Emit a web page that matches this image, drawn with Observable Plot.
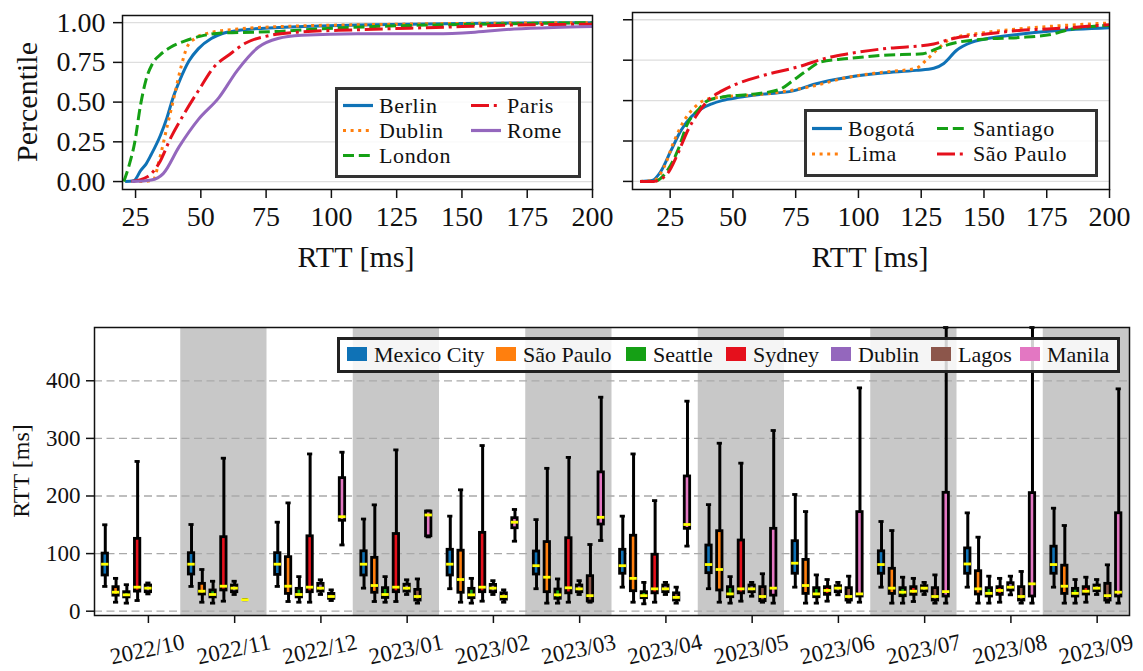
<!DOCTYPE html>
<html><head><meta charset="utf-8">
<script src="https://cdn.jsdelivr.net/npm/d3@7"></script>
<script src="https://cdn.jsdelivr.net/npm/@observablehq/plot@0.6"></script>
<style>
body{margin:0;background:#fff;}
#root{position:relative;width:1143px;height:671px;overflow:hidden;font-family:"Liberation Serif",serif;color:#111;background:#fff;}
#root svg{position:absolute;overflow:visible;}
.lbl{position:absolute;line-height:1;white-space:nowrap;}
</style></head><body><div id="root"></div>
<script>
// ---------- CDF data (RTT ms, percentile) ----------
const berlinCdf = [[21,0],[24.3,0.005],[27,0.07],[29,0.11],[31,0.17],[34.5,0.29],[37,0.4],[39.2,0.52],[42,0.64],[45.5,0.76],[49,0.835],[54,0.9],[58,0.93],[64,0.95],[80,0.97],[110,0.985],[150,0.995],[200,1.0]];
const dublinCdf = [[23.5,0],[28,0],[31.8,0.01],[34,0.13],[37,0.34],[40,0.55],[42.4,0.72],[44.7,0.845],[47.7,0.9],[52,0.93],[64,0.96],[80,0.975],[125,0.99],[200,1.0]];
const londonCdf = [[20.5,0],[22.5,0.1],[24.6,0.24],[27,0.49],[29,0.64],[31.4,0.74],[34.6,0.8],[38.4,0.845],[44,0.885],[50,0.915],[58,0.935],[70,0.94],[80,0.945],[95,0.96],[125,0.98],[155,0.99],[200,1.0]];
const parisCdf = [[23.5,0],[29.5,0.03],[34,0.115],[38.6,0.28],[43,0.41],[49,0.57],[55,0.72],[61,0.8],[67,0.87],[76.5,0.92],[87,0.94],[110,0.955],[140,0.97],[170,0.985],[200,0.99]];
const romeCdf = [[23.5,0],[31,0.01],[35.6,0.05],[41.7,0.22],[49,0.39],[57,0.53],[64,0.7],[72,0.845],[79.5,0.9],[88.6,0.92],[110,0.93],[140,0.93],[155,0.94],[170,0.96],[185,0.97],[200,0.975]];

const bogotaCdf = [[13,0],[17.8,0.006],[21.2,0.06],[25.3,0.19],[29.3,0.315],[33.4,0.4],[37.5,0.45],[41.6,0.48],[45.6,0.5],[52.4,0.52],[62,0.54],[74,0.56],[82,0.6],[96,0.645],[109.5,0.67],[123,0.687],[130,0.7],[134,0.73],[139,0.81],[145,0.86],[150,0.88],[164,0.91],[177,0.93],[200,0.95]];
const limaCdf = [[13,0],[18.5,0.006],[22.6,0.09],[26.6,0.25],[30.7,0.38],[34.8,0.46],[40,0.51],[48,0.525],[62,0.54],[75.5,0.57],[82,0.59],[96,0.645],[109.5,0.675],[123,0.7],[127,0.75],[131,0.81],[136.6,0.88],[150,0.92],[164,0.944],[177,0.96],[200,0.98]];
const santiagoCdf = [[13,0],[18.5,0],[24,0.07],[28,0.19],[32,0.36],[36,0.44],[40,0.5],[47,0.525],[58,0.54],[68.7,0.57],[74,0.625],[79.6,0.687],[85,0.74],[96,0.76],[109.5,0.78],[125.7,0.79],[131,0.82],[136.6,0.85],[150,0.88],[164,0.89],[177,0.91],[184,0.94],[200,0.965]];
const saoPauloCdf = [[13,0],[18.5,0],[24,0.05],[28,0.17],[32,0.315],[36,0.42],[40,0.5],[45.6,0.56],[51,0.6],[62,0.655],[75.5,0.707],[89,0.77],[96,0.79],[109.5,0.82],[130,0.85],[136.6,0.88],[150,0.91],[164,0.934],[177,0.944],[200,0.97]];

const cdfXTicks = [25,50,75,100,125,150,175,200];
const cdfYTicks = [0,0.25,0.5,0.75,1];

// ---------- Box plot data (RTT ms) ----------
const months = ["2022/10","2022/11","2022/12","2023/01","2023/02","2023/03","2023/04","2023/05","2023/06","2023/07","2023/08","2023/09"];
const cities = ["Mexico City","São Paulo","Seattle","Sydney","Dublin","Lagos","Manila"];
const cityColors = ["#0f72b6","#ff7f0e","#15a015","#e5101c","#9467bd","#8c564b","#e377c2"];
const whiskerLow = [
 [43,15.6,14,18.5,30,null,null],
 [43,15.6,14,17.4,29,20,null],
 [43,16.8,15.6,15.6,29,18.5,115],
 [40,16.8,15.6,16.8,29,14,129],
 [39,15.6,14,17.4,29,15.6,121.5],
 [39,14,14,15.6,29,15.6,122.7],
 [41.7,15.6,12.8,15.6,29,14,113],
 [39,15.6,14,17.4,26,15.6,14],
 [41.7,14,14,17.4,28.4,15.6,15.6],
 [41.7,14,14,16.8,29,14,14],
 [41.7,14,14,15.6,28.4,14,14],
 [41.7,14,14,15.6,29,15.6,14]];
const quart1 = [
 [62,27,24,34,33,null,null],
 [63.7,29,24,36,33,20,null],
 [63,30,24,33,34,21.5,157],
 [62,32,23,33,34,18.5,130],
 [62,32,22.6,33,33,20,144],
 [63.7,33,21.5,31,33,16.8,150.5],
 [65,34.7,22.6,31,33,18.5,143],
 [66,36,24.3,31,33,17.4,27],
 [65,30,24.3,28.4,33,18.5,25.5],
 [65,30,26,28.4,34,18.5,25.5],
 [65,29,25.5,28.4,36,18.5,25.5],
 [65,30,25.5,29,34.7,18.5,25.5]];
const medians = [
 [81.6,33,28.4,41.7,40,null,null],
 [81.6,34.7,29,43.4,40,20,null],
 [81.6,43.4,29,41.7,40,25.5,164],
 [81.6,44.6,29,41.7,40,25.5,167],
 [81.6,55,28.4,41.7,40,25.5,154.5],
 [79,59,28.4,40.6,38.8,27,163],
 [79,57,27,38.8,38.8,24,150.5],
 [81,72.4,30,38.8,38.8,25.5,40],
 [83.3,44.6,30,36,40,25.5,30],
 [81,40,33,34.7,40,25.5,34],
 [82,38.8,31,36,41.7,25.5,47.5],
 [81,43.4,31,34.7,40,27,33]];
const quart3 = [
 [100,41.7,33,125.6,44.6,null,null],
 [100.7,47.5,36,128.5,44.6,20,null],
 [100.7,93.8,38.8,130,47.5,30,231],
 [104,92.6,40,134,46,37,173],
 [106.6,105,38.8,136,45.7,31,161.5],
 [103.6,120,37.6,126.7,44.6,60.8,241],
 [106.6,131,33,98,44.6,31,233.9],
 [114,138.9,41.7,122.7,44.6,41.7,143],
 [121.5,89,40,41.7,43.4,40,172],
 [104,73.6,40,41.7,43.4,40,205.5],
 [109,69.4,40,41.7,48.6,41.7,205],
 [112,79,38.8,41.7,44.6,47.5,170]];
const whiskerHigh = [
 [150,57,46,260,49,null,null],
 [150.5,72.4,52,265.6,52,20,null],
 [154.5,188,60,273,54.5,37,276],
 [160,184.6,60,280,54.5,56,174],
 [165,210.7,57,287.6,53,37,176.6],
 [159,248,56,267,53,115.8,371.5],
 [165,273,50,192,50,41.7,364.6],
 [185,291.6,60,257,50,65,313.7],
 [202.6,173,63,55,50,60.8,387.7],
 [155.7,140,59,57,50,63,520],
 [170.7,128.5,60.8,57,60.8,69,520],
 [178.8,148.8,55,59,55,80.5,386]];
const boxYTicks = [0,100,200,300,400];

// ---------- helpers ----------
const root = document.getElementById("root");
const FONT = "'Liberation Serif', serif";
function put(el, left, top){ el.style.left = left+"px"; el.style.top = top+"px"; root.appendChild(el); }
function label(text, cx, cy, size, rot){
  const d = document.createElement("div");
  d.className = "lbl"; d.textContent = text;
  d.style.left = cx+"px"; d.style.top = cy+"px"; d.style.fontSize = size+"px";
  d.style.transform = `translate(-50%,-50%) rotate(${rot||0}deg)`;
  root.appendChild(d);
}
const styles = {
  solid: {dash: null, cap: "butt"},
  dotted: {dash: "3,4.6", cap: "butt"},
  dashed: {dash: "11,4.8", cap: "butt"},
  dashdot: {dash: "18,4.8,3,4.8", cap: "butt"}
};

function cdfPlot(series, o){
  return Plot.plot({
    width: o.width, height: o.height,
    marginLeft: o.ml, marginRight: o.mr, marginTop: o.mt, marginBottom: o.mb,
    style: {fontFamily: FONT, fontSize: "28px", color: "#111", background: "transparent", overflow: "visible"},
    x: {domain: o.xDomain},
    y: {domain: [-0.05, 1.045]},
    marks: [
      Plot.ruleY(cdfYTicks, {stroke: "#dedede", strokeWidth: 1.3}),
      ...series.map(s => Plot.line(s.pts, {x: d => d[0], y: d => d[1], stroke: s.color, strokeWidth: 3,
          strokeDasharray: styles[s.style].dash, strokeLinecap: styles[s.style].cap, curve: "monotone-x"})),
      Plot.frame({stroke: "#111", strokeWidth: 1.5}),
      Plot.axisX({ticks: cdfXTicks, tickSize: 9, tickPadding: 8, label: null, strokeWidth: 1.5}),
      Plot.axisY({ticks: cdfYTicks, tickSize: 9, tickPadding: 8, label: null, strokeWidth: 1.5,
          tickFormat: o.showY ? d3.format(".2f") : () => ""})
    ]
  });
}

// ---------- top-left CDF ----------
const leftSeries = [
  {name: "Berlin", pts: berlinCdf, color: cityColors[0], style: "solid"},
  {name: "Dublin", pts: dublinCdf, color: cityColors[1], style: "dotted"},
  {name: "London", pts: londonCdf, color: cityColors[2], style: "dashed"},
  {name: "Paris", pts: parisCdf, color: cityColors[3], style: "dashdot"},
  {name: "Rome", pts: romeCdf, color: cityColors[4], style: "solid"}
];
const p1 = cdfPlot(leftSeries, {width: 620, height: 280, ml: 122, mr: 28, mt: 15, mb: 91, xDomain: [20, 200], showY: true});
put(p1, 0, 0);

// ---------- top-right CDF ----------
const rightSeries = [
  {name: "Bogotá", pts: bogotaCdf, color: cityColors[0], style: "solid"},
  {name: "Lima", pts: limaCdf, color: cityColors[1], style: "dotted"},
  {name: "Santiago", pts: santiagoCdf, color: cityColors[2], style: "dashed"},
  {name: "São Paulo", pts: saoPauloCdf, color: cityColors[3], style: "dashdot"}
];
const p2 = cdfPlot(rightSeries, {width: 543, height: 280, ml: 32, mr: 34, mt: 12, mb: 91, xDomain: [10, 200], showY: false});
put(p2, 600, 0);

label("Percentile", 27, 102, 30, -90);
label("RTT [ms]", 356, 257, 30);
label("RTT [ms]", 870, 257, 30);

// line legends
function lineLegend(box, items){
  const d = document.createElement("div");
  d.style.cssText = `position:absolute;left:${box.x}px;top:${box.y}px;width:${box.w}px;height:${box.h}px;box-sizing:border-box;border:3px solid #333;background:rgba(255,255,255,0.82);`;
  root.appendChild(d);
  const ns = "http://www.w3.org/2000/svg";
  const svg = document.createElementNS(ns, "svg");
  svg.setAttribute("width", 1143); svg.setAttribute("height", 300);
  svg.style.left = "0px"; svg.style.top = "0px";
  items.forEach(it => {
    const l = document.createElementNS(ns, "line");
    l.setAttribute("x1", it.hx); l.setAttribute("x2", it.hx + 30);
    l.setAttribute("y1", it.y); l.setAttribute("y2", it.y);
    l.setAttribute("stroke", it.s.color); l.setAttribute("stroke-width", 3.2);
    if (styles[it.s.style].dash) l.setAttribute("stroke-dasharray", styles[it.s.style].dash);
    svg.appendChild(l);
  });
  root.appendChild(svg);
  items.forEach(it => {
    const t = document.createElement("div");
    t.className = "lbl"; t.textContent = it.s.name;
    t.style.cssText += `left:${it.hx + 36}px;top:${it.y - 11}px;height:22px;line-height:22px;font-size:22px;letter-spacing:0.6px;`;
    root.appendChild(t);
  });
}
lineLegend({x: 335, y: 87, w: 246, h: 91}, [
  {s: leftSeries[0], hx: 343, y: 105.5}, {s: leftSeries[1], hx: 343, y: 130.5}, {s: leftSeries[2], hx: 343, y: 155.5},
  {s: leftSeries[3], hx: 471, y: 105.5}, {s: leftSeries[4], hx: 471, y: 130.5}
]);
lineLegend({x: 804, y: 109, w: 294, h: 68}, [
  {s: rightSeries[0], hx: 812, y: 128.5}, {s: rightSeries[1], hx: 812, y: 154},
  {s: rightSeries[2], hx: 937, y: 128.5}, {s: rightSeries[3], hx: 937, y: 154}
]);

// ---------- bottom box plot ----------
const rows = [];
months.forEach((m, mi) => cities.forEach((c, ci) => {
  if (medians[mi][ci] == null) return;
  rows.push({month: m, city: c, pos: mi * 8 + ci + 1,
    low: whiskerLow[mi][ci], q1: quart1[mi][ci], med: medians[mi][ci], q3: quart3[mi][ci], high: whiskerHigh[mi][ci]});
}));
const shaded = months.map((m, i) => i).filter(i => i % 2 === 1);
const tickPos = months.map((m, i) => i * 8 + 5);

const p3 = Plot.plot({
  width: 1143, height: 371, marginLeft: 94, marginRight: 14, marginTop: 27, marginBottom: 56,
  style: {fontFamily: FONT, fontSize: "23px", color: "#111", background: "transparent", overflow: "visible"},
  x: {domain: [0, 96]},
  y: {domain: [-7.47, 492.5], clamp: true},
  color: {domain: cities, range: cityColors},
  marks: [
    Plot.rect(shaded, {x1: i => i * 8, x2: i => i * 8 + 8, fill: "#c8c8c8"}),
    Plot.ruleY(boxYTicks, {stroke: "#a9a9a9", strokeWidth: 1.3, strokeDasharray: "8,4.5"}),
    Plot.ruleX(rows, {x: "pos", y1: "low", y2: "high", stroke: "#000", strokeWidth: 3}),
    Plot.ruleY(rows, {y: "low", x1: d => d.pos - 0.24, x2: d => d.pos + 0.24, stroke: "#000", strokeWidth: 2.8}),
    Plot.ruleY(rows, {y: "high", x1: d => d.pos - 0.24, x2: d => d.pos + 0.24, stroke: "#000", strokeWidth: 2.8}),
    Plot.rect(rows, {x1: d => d.pos - 0.25, x2: d => d.pos + 0.25, y1: "q1", y2: "q3", fill: "city", stroke: "#000", strokeWidth: 2.8}),
    Plot.ruleY(rows, {y: "med", x1: d => d.pos - 0.34, x2: d => d.pos + 0.34, stroke: "#ffff00", strokeWidth: 2.8}),
    Plot.frame({stroke: "#111", strokeWidth: 1.5}),
    Plot.axisY({ticks: boxYTicks, tickSize: 8, tickPadding: 6, label: null, strokeWidth: 1.5}),
    Plot.axisX({ticks: tickPos, tickSize: 8, tickFormat: () => "", label: null, strokeWidth: 1.5}),
    Plot.text(months, {x: (d, i) => i * 8 + 5, frameAnchor: "bottom", dy: 34, dx: -1, rotate: -12,
      text: d => d, textAnchor: "middle", lineAnchor: "middle", fontSize: 23})
  ]
});
put(p3, 0, 300);

label("RTT [ms]", 21, 471, 24, -90);

// box legend
(function(){
  const d = document.createElement("div");
  d.style.cssText = "position:absolute;left:337px;top:337px;width:783px;height:36px;box-sizing:border-box;border:3px solid #222;background:rgba(255,255,255,0.82);";
  root.appendChild(d);
  const sq = [347, 496, 626, 726, 831, 931, 1020];
  cities.forEach((c, i) => {
    const s = document.createElement("div");
    s.style.cssText = `position:absolute;left:${sq[i]}px;top:347px;width:20px;height:14px;background:${cityColors[i]};`;
    root.appendChild(s);
    const t = document.createElement("div");
    t.className = "lbl"; t.textContent = c;
    t.style.cssText += `left:${sq[i] + 27}px;top:355px;font-size:22px;transform:translateY(-50%);`;
    root.appendChild(t);
  });
})();
</script></body></html>
